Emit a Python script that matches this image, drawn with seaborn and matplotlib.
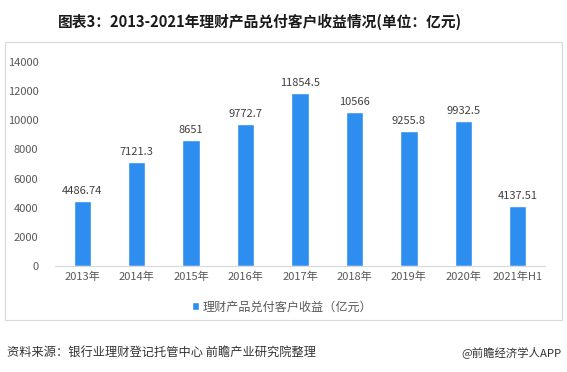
import matplotlib
matplotlib.use("Agg")
import matplotlib.pyplot as plt
import matplotlib.patches as mpatches
import seaborn as sns
import pandas as pd

years = ["2013年", "2014年", "2015年", "2016年", "2017年", "2018年", "2019年", "2020年", "2021年H1"]
income = [4486.74, 7121.3, 8651, 9772.7, 11854.5, 10566, 9255.8, 9932.5, 4137.51]
value_labels = ["4486.74", "7121.3", "8651", "9772.7", "11854.5", "10566", "9255.8", "9932.5", "4137.51"]
yticks = [0, 2000, 4000, 6000, 8000, 10000, 12000, 14000]

sns.set_style("white")
plt.rcParams['font.family'] = ['Noto Sans CJK SC', 'DejaVu Sans']

df = pd.DataFrame({"year": years, "income": income})
bar_color = "#2D8EF0"

fig = plt.figure(figsize=(5.67, 3.72), dpi=100)
ax = fig.add_axes([0.097, 0.285, 0.864, 0.548])

sns.barplot(data=df, x="year", y="income", color=bar_color, width=0.32,
            saturation=1, ax=ax, label="理财产品兑付客户收益（亿元）")

for i, v in enumerate(income):
    ax.text(i, v + 350, value_labels[i], ha="center", va="bottom", fontsize=8, color="#404040")

ax.set_ylim(0, 14000)
ax.set_yticks(yticks)
ax.set_yticklabels([str(t) for t in yticks], fontsize=8, color="#595959")
ax.tick_params(axis="x", labelsize=8, colors="#595959", length=0, pad=4)
ax.tick_params(axis="y", length=0, pad=12)
ax.set_xlabel("")
ax.set_ylabel("")
for s in ["top", "right", "left"]:
    ax.spines[s].set_visible(False)
ax.spines["bottom"].set_color("#D9D9D9")
ax.set_xlim(-0.5, 8.5)

ax.legend(loc="upper center", bbox_to_anchor=(0.463, -0.115), frameon=False, fontsize=8.7,
          handlelength=0.6, handleheight=0.6, handletextpad=0.3, labelcolor="#595959")

# chart border
fig.patches.append(mpatches.Rectangle((5 / 567, 1 - 320 / 372), 557 / 567, 278 / 372,
                                      transform=fig.transFigure, fill=False,
                                      edgecolor="#D9D9D9", linewidth=0.8))

fig.text(260 / 567, 1 - 22 / 372, "图表3：2013-2021年理财产品兑付客户收益情况(单位：亿元)",
         ha="center", va="center", fontsize=10.6, fontweight="bold", color="#1a1a1a")
fig.text(7 / 567, 1 - 352 / 372, "资料来源：银行业理财登记托管中心 前瞻产业研究院整理",
         ha="left", va="center", fontsize=8.8, color="#333333")
fig.text(562 / 567, 1 - 352 / 372, "@前瞻经济学人APP",
         ha="right", va="center", fontsize=8.2, color="#333333")

fig.savefig("out.png", dpi=100)
